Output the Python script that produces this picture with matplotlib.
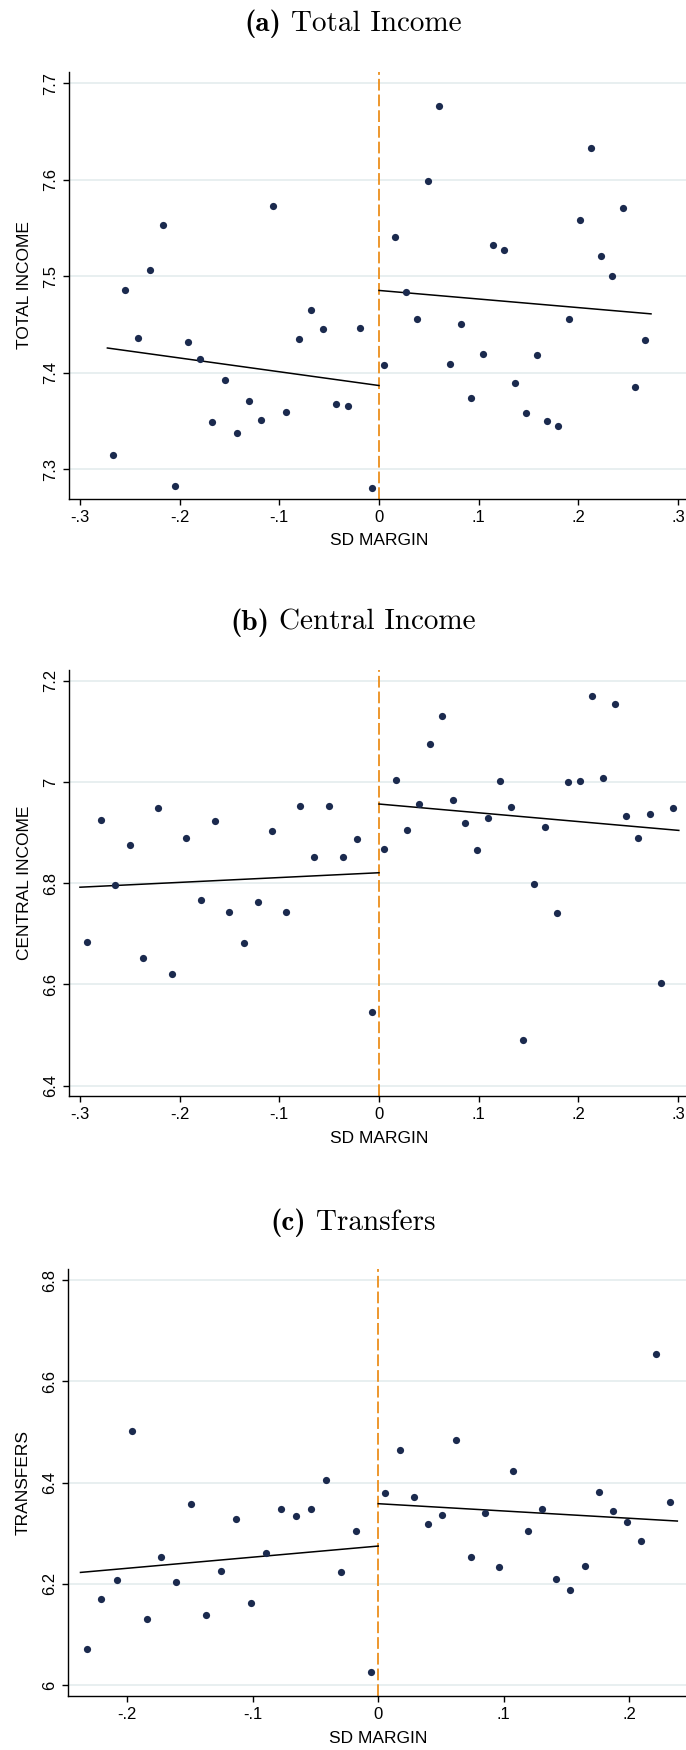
import matplotlib
matplotlib.use('Agg')
import numpy as np
import matplotlib.pyplot as plt

plt.rcParams['font.family'] = ['Liberation Sans', 'DejaVu Sans']
plt.rcParams['axes.unicode_minus'] = False

# (a) Total income - binned means by SD margin
inc_x = [-0.2668, -0.2545, -0.242, -0.2295, -0.217, -0.2046, -0.192, -0.180, -0.1677, -0.155,
         -0.1428, -0.130, -0.118, -0.106, -0.0933, -0.0806, -0.0683, -0.056, -0.0434, -0.031,
         -0.0188, -0.0066,
         0.005, 0.016, 0.027, 0.038, 0.049, 0.060, 0.071, 0.082, 0.0924, 0.104, 0.114, 0.125,
         0.136, 0.147, 0.1586, 0.169, 0.180, 0.1905, 0.2015, 0.2124, 0.223, 0.234, 0.245, 0.2567, 0.267]
inc_y = [7.315, 7.486, 7.436, 7.507, 7.553, 7.283, 7.432, 7.414, 7.349, 7.393,
         7.3375, 7.3705, 7.351, 7.573, 7.359, 7.435, 7.465, 7.445, 7.368, 7.3656,
         7.446, 7.2806,
         7.408, 7.541, 7.484, 7.456, 7.599, 7.677, 7.409, 7.451, 7.374, 7.420, 7.533, 7.527,
         7.389, 7.358, 7.418, 7.350, 7.345, 7.456, 7.558, 7.633, 7.521, 7.500, 7.571, 7.385, 7.434]

# (b) Central income
cen_x = [-0.2934, -0.2789, -0.2648, -0.2503, -0.2363, -0.2218, -0.2077, -0.1932, -0.1788, -0.1647,
         -0.1507, -0.1357, -0.1217, -0.1076, -0.0931, -0.079, -0.065, -0.0505, -0.0364, -0.022, -0.0075,
         0.0053, 0.0167, 0.0285, 0.040, 0.0514, 0.0628, 0.0747, 0.0865, 0.098, 0.1098, 0.121, 0.1326,
         0.144, 0.156, 0.1669, 0.1787, 0.190, 0.2016, 0.2134, 0.2249, 0.2367, 0.248, 0.2596, 0.2714,
         0.2828, 0.2947]
cen_y = [6.684, 6.924, 6.797, 6.876, 6.653, 6.949, 6.620, 6.890, 6.766, 6.923,
         6.743, 6.682, 6.763, 6.904, 6.744, 6.9525, 6.8515, 6.9525, 6.852, 6.8865, 6.545,
         6.867, 7.003, 6.906, 6.956, 7.075, 7.131, 6.965, 6.9195, 6.866, 6.9287, 7.0026, 6.950,
         6.490, 6.798, 6.911, 6.741, 6.9993, 7.0026, 7.170, 7.0086, 7.153, 6.932, 6.890, 6.937,
         6.602, 6.948]

# (c) Transfers
tra_x = [-0.2322, -0.2203, -0.2081, -0.1963, -0.1841, -0.1726, -0.1608, -0.149, -0.1371, -0.125,
         -0.1131, -0.1013, -0.0891, -0.0773, -0.0654, -0.0536, -0.0418, -0.0296, -0.0178, -0.0059,
         0.0056, 0.0171, 0.0282, 0.0397, 0.0508, 0.0623, 0.0738, 0.0849, 0.0961, 0.1076, 0.119,
         0.130, 0.1417, 0.1528, 0.1643, 0.1758, 0.187, 0.1984, 0.2095, 0.221, 0.2325]
tra_y = [6.071, 6.171, 6.208, 6.503, 6.130, 6.254, 6.204, 6.357, 6.138, 6.225,
         6.329, 6.162, 6.262, 6.348, 6.335, 6.349, 6.406, 6.223, 6.304, 6.026,
         6.380, 6.465, 6.372, 6.319, 6.336, 6.485, 6.254, 6.341, 6.234, 6.424, 6.304,
         6.348, 6.210, 6.187, 6.235, 6.382, 6.345, 6.322, 6.284, 6.655, 6.362]

# linear fits on each side of the cutoff: (intercept, slope, outer x)
inc_fit_left = (7.3868, -0.1428, -0.2725)
inc_fit_right = (7.4854, -0.089, 0.2729)
cen_fit_left = (6.8207, 0.0953, -0.300)
cen_fit_right = (6.9564, -0.1732, 0.3008)
tra_fit_left = (6.2748, 0.2198, -0.237)
tra_fit_right = (6.3585, -0.144, 0.2381)

x_ticks_wide = [-0.3, -0.2, -0.1, 0, 0.1, 0.2, 0.3]
x_labels_wide = ['-.3', '-.2', '-.1', '0', '.1', '.2', '.3']
x_ticks_narrow = [-0.2, -0.1, 0, 0.1, 0.2]
x_labels_narrow = ['-.2', '-.1', '0', '.1', '.2']
inc_yticks = [7.3, 7.4, 7.5, 7.6, 7.7]
inc_ylabels = ['7.3', '7.4', '7.5', '7.6', '7.7']
cen_yticks = [6.4, 6.6, 6.8, 7.0, 7.2]
cen_ylabels = ['6.4', '6.6', '6.8', '7', '7.2']
tra_yticks = [6.0, 6.2, 6.4, 6.6, 6.8]
tra_ylabels = ['6', '6.2', '6.4', '6.6', '6.8']

DOT = '#1b2a4e'
ORANGE = '#ec8f1c'
GRID = '#e4eced'
TITLE_SIZE = 21

fig = plt.figure(figsize=(6.86, 17.5), dpi=100)
renderer = fig.canvas.get_renderer()


# LaTeX-like caption: bold "(a)" then roman text, centred on cx
def caption(tag, text, cx, y):
    t1 = fig.text(0, y, tag, family='cmb10', size=TITLE_SIZE, va='baseline')
    t2 = fig.text(0, y, text, family='cmr10', size=TITLE_SIZE, va='baseline')
    w1 = t1.get_window_extent(renderer).width
    w2 = t2.get_window_extent(renderer).width
    gap = 0.33 * TITLE_SIZE * fig.dpi / 72
    W = fig.bbox.width
    x0 = cx * W - (w1 + gap + w2) / 2
    t1.set_x(x0 / W)
    t2.set_x((x0 + w1 + gap) / W)


def panel(rect, xs, ys, fit_l, fit_r, xlim, ylim, xt, xl, yt, yl, ylabel):
    ax = fig.add_axes(rect)
    for t in yt:
        ax.axhline(t, color=GRID, lw=1.2, zorder=0)
    ax.plot(xs, ys, 'o', color=DOT, ms=5.2, mec='none', zorder=3)
    for b, m, xe in (fit_l, fit_r):
        fx = np.array([min(0, xe), max(0, xe)])
        ax.plot(fx, b + m * fx, color='black', lw=1.1, zorder=2)
    ax.axvline(0, color=ORANGE, lw=1.3, dashes=(6.5, 2.2), zorder=1)
    ax.set_xlim(xlim)
    ax.set_ylim(ylim)
    ax.set_xticks(xt)
    ax.set_xticklabels(xl)
    ax.set_yticks(yt)
    ax.set_yticklabels(yl, rotation=90, va='center')
    ax.tick_params(axis='both', labelsize=12, length=4, width=1, direction='out', pad=4)
    for s in ('top', 'right'):
        ax.spines[s].set_visible(False)
    for s in ('left', 'bottom'):
        ax.spines[s].set_linewidth(1.0)
    ax.set_xlabel('SD MARGIN', fontsize=12.5, va='center')
    ax.xaxis.set_label_coords(0.502, -0.099)
    ax.set_ylabel(ylabel, fontsize=12.5, va='center')
    ax.yaxis.set_label_coords(-0.072, 0.5)
    return ax


panel([0.1006, 0.7150, 0.8994, 0.2438], inc_x, inc_y, inc_fit_left, inc_fit_right,
      (-0.311, 0.308), (7.2694, 7.7118), x_ticks_wide, x_labels_wide,
      inc_yticks, inc_ylabels, 'TOTAL INCOME')
panel([0.1006, 0.3735, 0.8994, 0.2439], cen_x, cen_y, cen_fit_left, cen_fit_right,
      (-0.311, 0.308), (6.379, 7.222), x_ticks_wide, x_labels_wide,
      cen_yticks, cen_ylabels, 'CENTRAL INCOME')
panel([0.0990, 0.0307, 0.9010, 0.2441], tra_x, tra_y, tra_fit_left, tra_fit_right,
      (-0.247, 0.245), (5.978, 6.822), x_ticks_narrow, x_labels_narrow,
      tra_yticks, tra_ylabels, 'TRANSFERS')

caption('(a)', 'Total Income', 0.5146, 0.9823)
caption('(b)', 'Central Income', 0.5146, 0.6400)
caption('(c)', 'Transfers', 0.5146, 0.2971)

fig.savefig('out.png', dpi=100)
